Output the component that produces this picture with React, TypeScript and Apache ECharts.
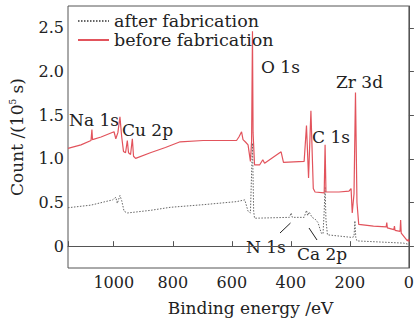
import React, { useEffect, useRef } from 'react';
import * as echarts from 'echarts';

// Binding energy (eV) and counts (10^5 s)
const energyBefore = [1155, 1111, 1077, 1075, 1074, 1072, 1043, 999, 993, 986, 979, 973, 967, 960, 954, 950, 943, 937, 933, 926, 876, 825, 775, 697, 640, 584, 576, 567, 562, 553, 545, 537, 533, 530, 528, 523, 506, 495, 489, 433, 425, 355, 347, 340, 332, 324, 318, 287, 284, 281, 237, 203, 196, 192, 186, 181, 176, 170, 120, 77, 75, 73, 51, 49, 47, 30, 28, 26, 5, 1, 0];
const countBefore = [1.12, 1.16, 1.21, 1.21, 1.335, 1.22, 1.25, 1.31, 1.23, 1.3, 1.48, 1.25, 1.085, 1.07, 1.21, 1.07, 1.05, 1.23, 1.03, 1.005, 1.07, 1.13, 1.195, 1.21, 1.21, 1.21, 1.25, 1.31, 1.22, 1.19, 1.16, 0.97, 1.2, 2.46, 1.3, 0.93, 0.93, 0.99, 0.95, 1.08, 0.96, 0.97, 1.38, 0.78, 1.55, 0.66, 0.62, 0.61, 1.16, 0.62, 0.62, 0.63, 0.66, 0.38, 0.6, 1.76, 0.5, 0.25, 0.23, 0.22, 0.27, 0.21, 0.19, 0.23, 0.18, 0.17, 0.3, 0.15, 0.06, 0.08, 0.05];

const energyAfter = [1155, 1077, 1004, 993, 988, 979, 973, 965, 954, 876, 808, 697, 584, 556, 545, 537, 530, 526, 523, 405, 399, 395, 355, 347, 343, 338, 328, 318, 308, 297, 291, 287, 284, 281, 276, 193, 186, 183, 180, 176, 18, 0];
const countAfter = [0.44, 0.47, 0.53, 0.56, 0.49, 0.58, 0.52, 0.4, 0.38, 0.41, 0.445, 0.475, 0.51, 0.53, 0.4, 0.38, 1.18, 0.4, 0.32, 0.33, 0.38, 0.33, 0.33, 0.41, 0.35, 0.39, 0.33, 0.31, 0.27, 0.15, 0.14, 0.4, 0.68, 0.3, 0.13, 0.1, 0.11, 0.29, 0.1, 0.06, 0.035, 0.02];

const seriesNames = ['after fabrication', 'before fabrication'];
const xLabelStep = 200;

const FONT = 'DejaVu Serif';

export default function App() {
  const ref = useRef<HTMLDivElement>(null);
  useEffect(() => {
    if (!ref.current) return;
    const chart = echarts.init(ref.current, undefined, { renderer: 'svg' });
    const axisColor = '#555';
    const textColor = '#222';
    const txt = (text: string, x: number, y: number) => ({
      type: 'text',
      x,
      y,
      style: { text, fill: textColor, font: `17px "${FONT}"`, textVerticalAlign: 'middle' },
    });
    chart.setOption({
      animation: false,
      backgroundColor: '#fff',
      textStyle: { fontFamily: FONT },
      grid: { left: 67, top: 6, width: 344, height: 264, show: true, borderColor: axisColor, borderWidth: 1, backgroundColor: 'transparent' },
      legend: {
        left: 72,
        top: 7,
        orient: 'vertical',
        itemWidth: 31,
        itemHeight: 12,
        itemGap: 1,
        itemStyle: { opacity: 0 },
        textStyle: { fontSize: 17.5, fontFamily: FONT, color: textColor },
        data: seriesNames,
      },
      xAxis: {
        type: 'value',
        inverse: true,
        min: 0,
        max: 1155,
        interval: xLabelStep,
        name: 'Binding energy /eV',
        nameLocation: 'middle',
        nameGap: 31,
        nameTextStyle: { fontSize: 17, fontFamily: FONT, color: textColor, padding: [0, 0, 0, 24] },
        axisLine: { lineStyle: { color: axisColor } },
        axisTick: { inside: true, length: 5, lineStyle: { color: axisColor } },
        axisLabel: {
          fontSize: 16,
          fontFamily: FONT,
          color: textColor,
          margin: 6,
          formatter: (v: number) => (v % xLabelStep === 0 ? String(v) : ''),
        },
        splitLine: { show: false },
      },
      yAxis: {
        type: 'value',
        min: -0.25,
        max: 2.75,
        splitNumber: 5,
        name: 'Count /(10{sup|5} s)',
        nameLocation: 'middle',
        nameGap: 43,
        nameTextStyle: {
          fontSize: 17,
          fontFamily: FONT,
          color: textColor,
          rich: { sup: { fontSize: 9, fontFamily: FONT, color: textColor, verticalAlign: 'top', padding: [0, 0, 8, 0] } },
        },
        axisLine: { show: true, lineStyle: { color: axisColor } },
        axisTick: { inside: true, length: 5, lineStyle: { color: axisColor } },
        axisLabel: {
          fontSize: 16,
          fontFamily: FONT,
          color: textColor,
          margin: 4,
          showMinLabel: false,
          showMaxLabel: false,
          formatter: (v: number) => (Math.abs(v) < 1e-9 ? '0' : v.toFixed(1)),
        },
        splitLine: { show: false },
      },
      series: [
        {
          name: seriesNames[0],
          type: 'line',
          symbol: 'none',
          data: energyAfter.map((e, i) => [e, countAfter[i]]),
          lineStyle: { color: '#666', width: 1, type: [1.5, 1.5] },
          itemStyle: { color: '#666' },
        },
        {
          name: seriesNames[1],
          type: 'line',
          symbol: 'none',
          data: energyBefore.map((e, i) => [e, countBefore[i]]),
          lineStyle: { color: '#e2535c', width: 1.2 },
          itemStyle: { color: '#e2535c' },
        },
      ],
      graphic: [
        txt('Na 1s', 69, 120),
        txt('Cu 2p', 122, 130),
        txt('O 1s', 261, 67),
        txt('Zr 3d', 336, 82),
        txt('C 1s', 312, 137),
        txt('N 1s', 246, 247),
        txt('Ca 2p', 297, 254),
        { type: 'line', shape: { x1: 280, y1: 233, x2: 290.5, y2: 223 }, style: { stroke: '#222', lineWidth: 1 } },
        { type: 'line', shape: { x1: 309, y1: 228, x2: 317, y2: 240 }, style: { stroke: '#222', lineWidth: 1 } },
      ],
    });
    return () => chart.dispose();
  }, []);
  return <div ref={ref} style={{ position: 'absolute', left: 0, top: 0, width: 417, height: 321 }} />;
}
